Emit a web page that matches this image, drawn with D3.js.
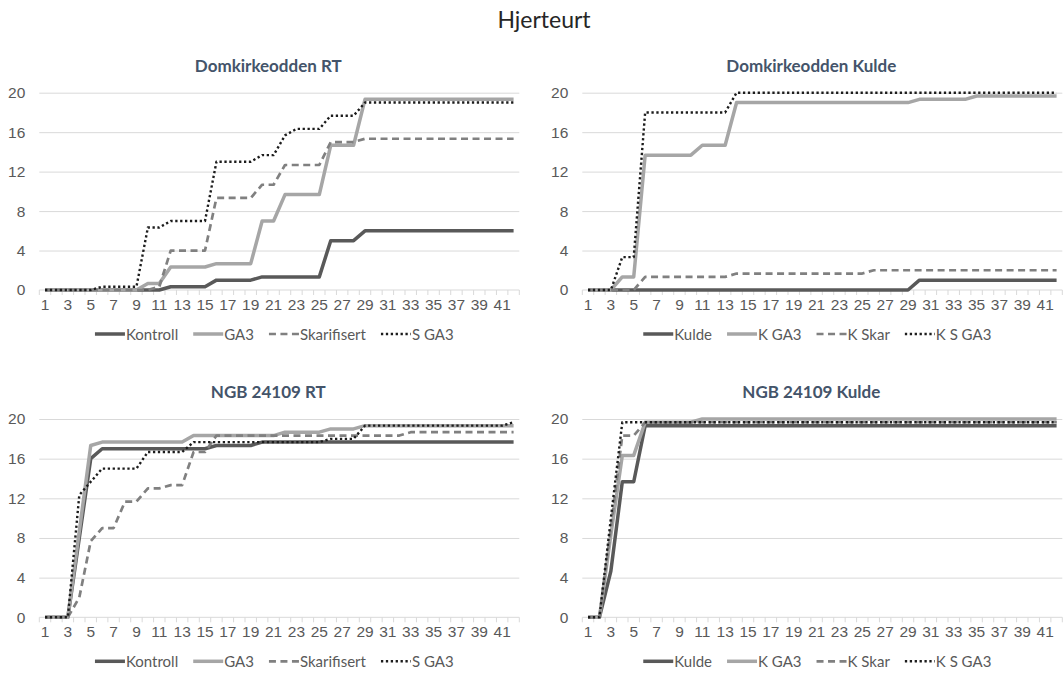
<!DOCTYPE html>
<html>
<head>
<meta charset="utf-8">
<script src="https://cdn.jsdelivr.net/npm/d3@7"></script>
<style>
  html, body { margin: 0; padding: 0; background: #fff; overflow: hidden; }
  svg { display: block; font-family: Lato, "Open Sans", sans-serif; }
</style>
</head>
<body>
<svg id="chart" width="1063" height="680"></svg>
<script>
// Days after sowing (category axis) and axis ticks
const days = d3.range(1, 43);
const dayLabels = days.filter(d => d % 2 === 1);
const yTicks = [0, 4, 8, 12, 16, 20];

const mainTitle = "Hjerteurt";
const panelTitles = ["Domkirkeodden RT", "Domkirkeodden Kulde", "NGB 24109 RT", "NGB 24109 Kulde"];
const rtNames = ["Kontroll", "GA3", "Skarifisert", "S GA3"];
const kuldeNames = ["Kulde", "K GA3", "K Skar", "K S GA3"];

// Domkirkeodden, room temperature
const domRtKontroll = [0,0,0,0,0,0,0,0,0,0,0,0.33,0.33,0.33,0.33,1,1,1,1,1.33,1.33,1.33,1.33,1.33,1.33,5,5,5,6,6,6,6,6,6,6,6,6,6,6,6,6,6];
const domRtGA3 = [0,0,0,0,0,0,0,0,0,0.67,0.67,2.33,2.33,2.33,2.33,2.67,2.67,2.67,2.67,7,7,9.67,9.67,9.67,9.67,14.67,14.67,14.67,19.33,19.33,19.33,19.33,19.33,19.33,19.33,19.33,19.33,19.33,19.33,19.33,19.33,19.33];
const domRtSkar = [0,0,0,0,0,0,0,0,0,0,0.33,4,4,4,4,9.33,9.33,9.33,9.33,10.67,10.67,12.67,12.67,12.67,12.67,15,15,15,15.33,15.33,15.33,15.33,15.33,15.33,15.33,15.33,15.33,15.33,15.33,15.33,15.33,15.33];
const domRtSGA3 = [0,0,0,0,0,0.33,0.33,0.33,0.33,6.33,6.33,7,7,7,7,13,13,13,13,13.67,13.67,15.67,16.33,16.33,16.33,17.67,17.67,17.67,19,19,19,19,19,19,19,19,19,19,19,19,19,19];

// Domkirkeodden, cold treatment
const domKKulde = [0,0,0,0,0,0,0,0,0,0,0,0,0,0,0,0,0,0,0,0,0,0,0,0,0,0,0,0,0,1,1,1,1,1,1,1,1,1,1,1,1,1];
const domKGA3 = [0,0,0,1.33,1.33,13.67,13.67,13.67,13.67,13.67,14.67,14.67,14.67,19,19,19,19,19,19,19,19,19,19,19,19,19,19,19,19,19.33,19.33,19.33,19.33,19.33,19.67,19.67,19.67,19.67,19.67,19.67,19.67,19.67];
const domKSkar = [0,0,0,0,0,1.33,1.33,1.33,1.33,1.33,1.33,1.33,1.33,1.67,1.67,1.67,1.67,1.67,1.67,1.67,1.67,1.67,1.67,1.67,1.67,2,2,2,2,2,2,2,2,2,2,2,2,2,2,2,2,2];
const domKSGA3 = [0,0,0,3.33,3.33,18,18,18,18,18,18,18,18,20,20,20,20,20,20,20,20,20,20,20,20,20,20,20,20,20,20,20,20,20,20,20,20,20,20,20,20,20];

// NGB 24109, room temperature
const ngbRtKontroll = [0,0,0,8,16,17,17,17,17,17,17,17,17,17,17,17.33,17.33,17.33,17.33,17.67,17.67,17.67,17.67,17.67,17.67,17.67,17.67,17.67,17.67,17.67,17.67,17.67,17.67,17.67,17.67,17.67,17.67,17.67,17.67,17.67,17.67,17.67];
const ngbRtGA3 = [0,0,0,8.67,17.33,17.67,17.67,17.67,17.67,17.67,17.67,17.67,17.67,18.33,18.33,18.33,18.33,18.33,18.33,18.33,18.33,18.67,18.67,18.67,18.67,19,19,19,19.33,19.33,19.33,19.33,19.33,19.33,19.33,19.33,19.33,19.33,19.33,19.33,19.33,19.33];
const ngbRtSkar = [0,0,0,2,7.67,9,9,11.67,11.67,13,13,13.33,13.33,16.67,16.67,18.33,18.33,18.33,18.33,18.33,18.33,18.33,18.33,18.33,18.33,18.33,18.33,18.33,18.33,18.33,18.33,18.33,18.67,18.67,18.67,18.67,18.67,18.67,18.67,18.67,18.67,18.67];
const ngbRtSGA3 = [0,0,0,12.33,13.67,15,15,15,15,16.67,16.67,16.67,16.67,17.67,17.67,17.67,17.67,17.67,17.67,17.67,17.67,17.67,17.67,17.67,17.67,18,18,18,19.33,19.33,19.33,19.33,19.33,19.33,19.33,19.33,19.33,19.33,19.33,19.33,19.33,19.67];

// NGB 24109, cold treatment
const ngbKKulde = [0,0,4.67,13.67,13.67,19.33,19.33,19.33,19.33,19.33,19.33,19.33,19.33,19.33,19.33,19.33,19.33,19.33,19.33,19.33,19.33,19.33,19.33,19.33,19.33,19.33,19.33,19.33,19.33,19.33,19.33,19.33,19.33,19.33,19.33,19.33,19.33,19.33,19.33,19.33,19.33,19.33];
const ngbKGA3 = [0,0,8.33,16.33,16.33,19.67,19.67,19.67,19.67,19.67,20,20,20,20,20,20,20,20,20,20,20,20,20,20,20,20,20,20,20,20,20,20,20,20,20,20,20,20,20,20,20,20];
const ngbKSkar = [0,0,9,18.33,18.33,19.67,19.67,19.67,19.67,19.67,19.67,19.67,19.67,19.67,19.67,19.67,19.67,19.67,19.67,19.67,19.67,19.67,19.67,19.67,19.67,19.67,19.67,19.67,19.67,19.67,19.67,19.67,19.67,19.67,19.67,19.67,19.67,19.67,19.67,19.67,19.67,19.67];
const ngbKSGA3 = [0,0,10,19.67,19.67,19.67,19.67,19.67,19.67,19.67,19.67,19.67,19.67,19.67,19.67,19.67,19.67,19.67,19.67,19.67,19.67,19.67,19.67,19.67,19.67,19.67,19.67,19.67,19.67,19.67,19.67,19.67,19.67,19.67,19.67,19.67,19.67,19.67,19.67,19.67,19.67,19.67];

// Line styles shared by the four treatments of each panel
const lineStyles = [
  { color: "#595959", width: 3.5, dash: null },
  { color: "#a6a6a6", width: 3.5, dash: null },
  { color: "#808080", width: 2.7, dash: "7,4.5" },
  { color: "#1c1c1c", width: 2.4, dash: "2.3,2.6" }
];

const panels = [
  { title: panelTitles[0], names: rtNames, series: [domRtKontroll, domRtGA3, domRtSkar, domRtSGA3], left: 39.3, top: 92.7, bottom: 290 },
  { title: panelTitles[1], names: kuldeNames, series: [domKKulde, domKGA3, domKSkar, domKSGA3], left: 582.3, top: 92.7, bottom: 290 },
  { title: panelTitles[2], names: rtNames, series: [ngbRtKontroll, ngbRtGA3, ngbRtSkar, ngbRtSGA3], left: 39.3, top: 419, bottom: 617.3 },
  { title: panelTitles[3], names: kuldeNames, series: [ngbKKulde, ngbKGA3, ngbKSkar, ngbKSGA3], left: 582.3, top: 419, bottom: 617.3 }
];
const plotWidth = 480;
const labelSize = 15.5;

const svg = d3.select("#chart");

svg.append("text")
  .attr("x", 544).attr("y", 28)
  .attr("text-anchor", "middle")
  .attr("font-size", 23)
  .attr("fill", "#262626")
  .text(mainTitle);

panels.forEach(p => {
  const g = svg.append("g");
  const x = d3.scaleBand().domain(days).range([p.left, p.left + plotWidth]).padding(0);
  const cx = d => x(d) + x.bandwidth() / 2;
  const y = d3.scaleLinear().domain([0, 20]).range([p.bottom, p.top]);

  // panel title
  g.append("text")
    .attr("x", p.left + 229).attr("y", p.top - 21)
    .attr("text-anchor", "middle")
    .attr("font-size", 17).attr("font-weight", 700)
    .attr("fill", "#44546a")
    .text(p.title);

  // horizontal gridlines + value labels
  const yAxis = g.append("g")
    .attr("transform", `translate(${p.left},0)`)
    .call(d3.axisLeft(y).tickValues(yTicks).tickSize(-plotWidth).tickPadding(14).tickFormat(d3.format("d")));
  yAxis.select(".domain").remove();
  yAxis.selectAll(".tick line").attr("stroke", "#d9d9d9").attr("stroke-width", 1);
  yAxis.selectAll(".tick text").attr("fill", "#595959").attr("font-size", labelSize).attr("font-family", null);
  yAxis.selectAll(".tick").filter(d => d === 0).select("line").remove();

  // category axis with tick marks between categories
  const boundaries = days.map(d => x(d)).concat([p.left + plotWidth]);
  g.append("line")
    .attr("x1", p.left).attr("x2", p.left + plotWidth)
    .attr("y1", y(0)).attr("y2", y(0))
    .attr("stroke", "#d9d9d9").attr("stroke-width", 1);
  g.selectAll("line.bt").data(boundaries).enter().append("line")
    .attr("class", "bt")
    .attr("x1", d => d).attr("x2", d => d)
    .attr("y1", y(0)).attr("y2", y(0) + 5)
    .attr("stroke", "#d9d9d9").attr("stroke-width", 1);

  const xAxis = g.append("g")
    .attr("transform", `translate(0,${y(0)})`)
    .call(d3.axisBottom(x).tickValues(dayLabels).tickSize(0).tickPadding(9));
  xAxis.select(".domain").remove();
  xAxis.selectAll(".tick text").attr("fill", "#595959").attr("font-size", labelSize).attr("font-family", null);

  // treatment lines
  const line = d3.line().x((v, i) => cx(days[i])).y(v => y(v));
  [0, 1, 2, 3].forEach(k => {
    const s = lineStyles[k];
    g.append("path")
      .datum(p.series[k])
      .attr("d", line)
      .attr("fill", "none")
      .attr("stroke", s.color)
      .attr("stroke-width", s.width)
      .attr("stroke-linejoin", "round")
      .attr("stroke-dasharray", s.dash);
  });

  // legend
  const legY = p.bottom + 44;
  const leg = g.append("g");
  let cursor = 0;
  p.names.forEach((name, k) => {
    const it = leg.append("g");
    const s = lineStyles[k];
    it.append("line")
      .attr("x1", 0).attr("x2", 30).attr("y1", 0).attr("y2", 0)
      .attr("stroke", s.color).attr("stroke-width", s.width)
      .attr("stroke-dasharray", s.dash);
    const t = it.append("text")
      .attr("x", 31).attr("y", 5.5)
      .attr("font-size", 15).attr("fill", "#595959")
      .text(name);
    const w = 31 + t.node().getComputedTextLength();
    it.attr("transform", `translate(${cursor},0)`);
    cursor += w + 15;
  });
  const total = cursor - 15;
  leg.attr("transform", `translate(${p.left + 235 - total / 2},${legY})`);
});
</script>
</body>
</html>
